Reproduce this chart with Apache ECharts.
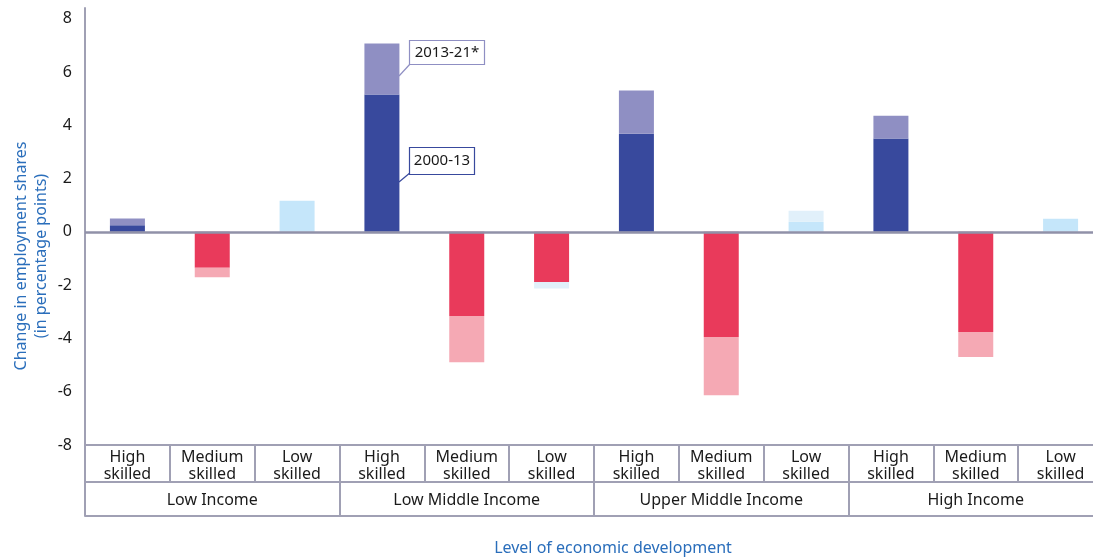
<!DOCTYPE html>
<html>
<head>
<meta charset="utf-8">
<script src="https://cdn.jsdelivr.net/npm/echarts@6/dist/echarts.min.js"></script>
<style>
  html, body { margin: 0; padding: 0; background: #fff; }
  #chart { width: 1093px; height: 557px; }
</style>
</head>
<body>
<div id="chart"></div>
<script>
  // categories
  const skills = ['High\nskilled', 'Medium\nskilled', 'Low\nskilled',
    'High\nskilled', 'Medium\nskilled', 'Low\nskilled',
    'High\nskilled', 'Medium\nskilled', 'Low\nskilled',
    'High\nskilled', 'Medium\nskilled', 'Low\nskilled']
  const incomes = ['Low Income', 'Low Middle Income', 'Upper Middle Income', 'High Income']
  // change in employment shares (percentage points)
  const period1 = [0.25, -1.35, 1.17, 5.15, -3.16, -1.88, 3.68, -3.95, 0.38, 3.5, -3.76, 0.49]
  const period2 = [0.25, -0.35, 0, 1.92, -1.73, -0.25, 1.62, -2.18, 0.41, 0.86, -0.94, 0]
  const yTicks = [-8, -6, -4, -2, 0, 2, 4, 6, 8]

  const gridLine = '#a0a0b4'
  const font = '"Noto Sans", "Open Sans", sans-serif'

  function color1(i, v) {
    let k = i % 3
    if (k === 0) return '#38499d'
    if (k === 1) return '#e93a5b'
    return v < 0 ? '#e93a5b' : '#c5e6fa'
  }
  function color2(i) {
    let k = i % 3
    if (k === 0) return '#8f8fc3'
    if (k === 1) return '#f5a9b4'
    return '#e1f0fa'
  }

  let myChart = echarts.init(document.getElementById('chart'))
  let option = {
    animation: false,
    grid: {
      left: 85,
      top: 8,
      width: 1018,
      height: 437,
      outerBoundsMode: 'none'
    },
    xAxis: [
      {
        type: 'category',
        data: skills,
        position: 'bottom',
        axisLine: { show: true, onZero: false, lineStyle: { color: gridLine, width: 2 } },
        axisTick: { show: true, interval: 0, length: 37, lineStyle: { color: gridLine, width: 2 } },
        axisLabel: {
          interval: 0,
          margin: 4,
          fontSize: 16,
          lineHeight: 17,
          color: '#1a1a1a',
          fontFamily: font
        }
      },
      {
        type: 'category',
        data: incomes,
        position: 'bottom',
        offset: 37,
        axisLine: { show: true, onZero: false, lineStyle: { color: gridLine, width: 2 } },
        axisTick: { show: true, interval: 0, length: 34, lineStyle: { color: gridLine, width: 2 } },
        axisLabel: {
          interval: 0,
          margin: 10,
          fontSize: 16,
          color: '#1a1a1a',
          fontFamily: font
        }
      },
      {
        type: 'category',
        data: incomes,
        position: 'bottom',
        offset: 71,
        axisLine: { show: true, onZero: false, lineStyle: { color: gridLine, width: 2 } },
        axisTick: { show: false },
        axisLabel: { show: false }
      }
    ],
    yAxis: {
      type: 'value',
      min: -8,
      max: 8.4,
      interval: 2,
      axisLine: { show: true, lineStyle: { color: gridLine, width: 2 } },
      axisTick: { show: false },
      splitLine: { show: false },
      axisLabel: {
        margin: 13,
        fontSize: 16,
        color: '#1a1a1a',
        fontFamily: font,
        formatter: function (v) {
          return yTicks.indexOf(v) >= 0 ? String(v) : ''
        }
      }
    },
    series: [
      {
        name: '2000-13',
        type: 'bar',
        stack: 'total',
        barWidth: 35,
        data: period1.map((v, i) => ({ value: v, itemStyle: { color: color1(i, v) } })),
        markLine: {
          silent: true,
          symbol: 'none',
          label: { show: false },
          lineStyle: { color: '#9091a8', width: 2.5, type: 'solid' },
          data: [{ yAxis: 0 }]
        }
      },
      {
        name: '2013-21*',
        type: 'bar',
        stack: 'total',
        barWidth: 35,
        data: period2.map((v, i) => ({ value: v, itemStyle: { color: color2(i) } }))
      }
    ],
    graphic: [
      {
        type: 'text',
        x: 31,
        y: 256,
        rotation: Math.PI / 2,
        style: {
          text: 'Change in employment shares\n(in percentage points)',
          fill: '#2a6ebb',
          font: '16px ' + font,
          lineHeight: 20,
          align: 'center',
          verticalAlign: 'middle'
        }
      },
      {
        type: 'text',
        x: 613,
        y: 548,
        style: {
          text: 'Level of economic development',
          fill: '#2a6ebb',
          font: '16px ' + font,
          align: 'center',
          verticalAlign: 'middle'
        }
      },
      // annotation 2013-21*
      {
        type: 'line',
        shape: { x1: 399, y1: 76, x2: 411, y2: 63 },
        style: { stroke: '#8f8fc3', lineWidth: 1.2 }
      },
      {
        type: 'rect',
        shape: { x: 409.5, y: 40.5, width: 75, height: 24 },
        style: { fill: '#fff', stroke: '#8f8fc3', lineWidth: 1.2 }
      },
      {
        type: 'text',
        x: 447,
        y: 53,
        style: {
          text: '2013-21*',
          fill: '#1a1a1a',
          font: '15px ' + font,
          align: 'center',
          verticalAlign: 'middle'
        }
      },
      // annotation 2000-13
      {
        type: 'line',
        shape: { x1: 399, y1: 182, x2: 411, y2: 172 },
        style: { stroke: '#38499d', lineWidth: 1.2 }
      },
      {
        type: 'rect',
        shape: { x: 409.5, y: 147.5, width: 65, height: 27 },
        style: { fill: '#fff', stroke: '#38499d', lineWidth: 1.2 }
      },
      {
        type: 'text',
        x: 442,
        y: 161,
        style: {
          text: '2000-13',
          fill: '#1a1a1a',
          font: '15px ' + font,
          align: 'center',
          verticalAlign: 'middle'
        }
      }
    ]
  }
  myChart.setOption(option)
</script>
</body>
</html>
